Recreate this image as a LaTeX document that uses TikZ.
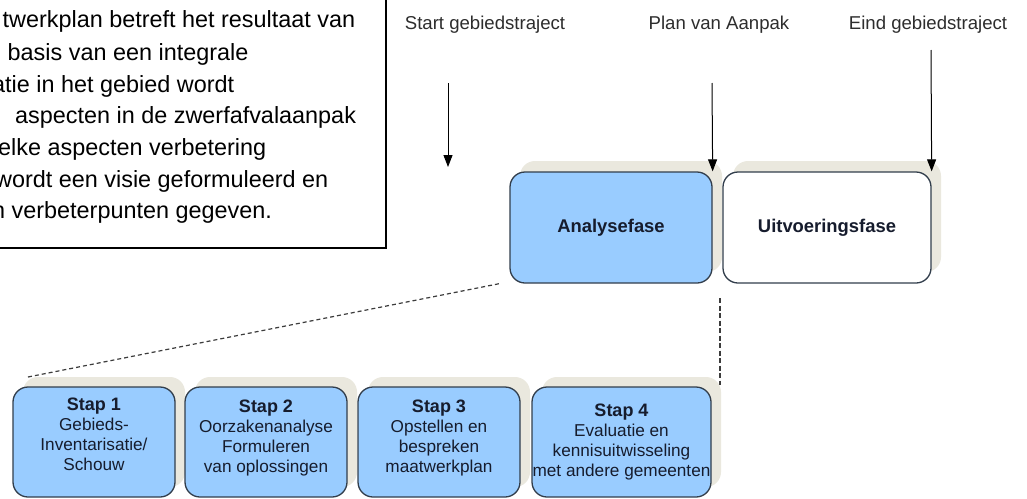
\documentclass[tikz,border=0pt]{standalone}
\usepackage{fontspec}
\setmainfont{Liberation Sans}
\usetikzlibrary{arrows.meta,shadows}
\definecolor{boxblue}{RGB}{153,204,255}
\definecolor{shadowc}{RGB}{234,232,222}
\definecolor{edgec}{RGB}{50,62,76}
\definecolor{navy}{RGB}{22,28,45}
\definecolor{labelc}{RGB}{45,45,45}
\definecolor{dashc}{RGB}{60,60,60}
\tikzset{
  phase/.style={draw=edgec, line width=1.3pt, rounded corners=15pt,
    minimum height=111pt, inner sep=0pt, text=navy,
    font=\fontsize{18.4}{22}\selectfont\bfseries,
    general shadow={fill=shadowc, shadow xshift=10pt, shadow yshift=11pt}},
  stepbox/.style={draw=edgec, line width=1.3pt, rounded corners=15pt,
    minimum height=110pt, fill=boxblue, inner sep=0pt,
    general shadow={fill=shadowc, shadow xshift=10pt, shadow yshift=10pt}},
  steptext/.style={align=center, inner sep=0pt, text=navy,
    font=\fontsize{17.2}{20}\selectfont},
  toplabel/.style={anchor=base, inner sep=0pt, text=labelc,
    font=\fontsize{18.6}{22}\selectfont},
  bodyline/.style={anchor=base west, inner sep=0pt, text=black,
    font=\fontsize{23.4}{31.8}\selectfont},
  arr/.style={line width=1pt, -{Triangle[length=12pt,width=9pt]}},
  dashline/.style={line width=1.2pt, draw=dashc, dash pattern=on 4pt off 3pt}
}
\begin{document}
\begin{tikzpicture}[x=1pt,y=-1pt]
\useasboundingbox (0,0) rectangle (1027,498);
\fill[white] (0,0) rectangle (1027,498);

% text box (cut off at the left and top)
\draw[line width=1.5pt] (-20,-20) rectangle (386,248);
\node[bodyline] (l1) at (2.5,27) {twerkplan betreft het resultaat van};
\node[bodyline] (l2) at (-12,60) {e basis van een integrale};
\node[bodyline] (l3) at (-8,92) {atie in het gebied wordt};
\node[bodyline] (l4) at (15,123) {aspecten in de zwerfafvalaanpak};
\node[bodyline] (l5) at (-2,155) {elke aspecten verbetering};
\node[bodyline] (l6) at (-5,187) {wordt een visie geformuleerd en};
\node[bodyline] (l7) at (-8,218) {n verbeterpunten gegeven.};

% top labels
\node[toplabel] (lstart) at (485,29) {Start gebiedstraject};
\node[toplabel] (lplan) at (719,29) {Plan van Aanpak};
\node[toplabel] (leind) at (928,29) {Eind gebiedstraject};

% phases
\node[phase, fill=boxblue, minimum width=202pt] (ana) at (611,227.5) {Analysefase};
\node[phase, fill=white, minimum width=208pt] (uit) at (827,227.5) {Uitvoeringsfase};

% arrows
\coordinate (a1) at (448,83);
\coordinate (a1e) at (448,167);
\coordinate (a2) at (712,83);
\coordinate (a3) at (931,50);
\draw[arr] (a1) -- (a1e);
\draw[arr] (a2) -- (ana.north east);
\draw[arr] (a3) -- (uit.north east);

% steps
\node[stepbox, minimum width=162pt] (st1) at (94,442) {};
\node[stepbox, minimum width=162pt] (st2) at (266,442) {};
\node[stepbox, minimum width=162pt] (st3) at (439,442) {};
\node[stepbox, minimum width=179pt] (st4) at (621.5,442) {};

\node[steptext] (t1) at (94,434) {{\bfseries\fontsize{18}{20}\selectfont Stap 1}\\Gebieds-\\Inventarisatie/\\Schouw};
\node[steptext] (t2) at (266,438) {{\bfseries\fontsize{18}{20}\selectfont Stap 2}\\Oorzakenanalyse\\Formuleren\\van oplossingen};
\node[steptext] (t3) at (439,438) {{\bfseries\fontsize{18}{20}\selectfont Stap 3}\\Opstellen en\\bespreken\\maatwerkplan};
\node[steptext] (t4) at (621.5,442) {{\bfseries\fontsize{18}{20}\selectfont Stap 4}\\Evaluatie en\\kennisuitwisseling\\met andere gemeenten};

% zoom lines
\coordinate (d1) at (28,377);
\draw[dashline] (d1) -- ([xshift=-10pt]ana.south west);
\coordinate (v1) at (720,298);
\coordinate (v2) at (720,385);
\draw[dashline, dash pattern=on 5pt off 2.5pt] (v1) -- (v2);
\end{tikzpicture}
\end{document}
